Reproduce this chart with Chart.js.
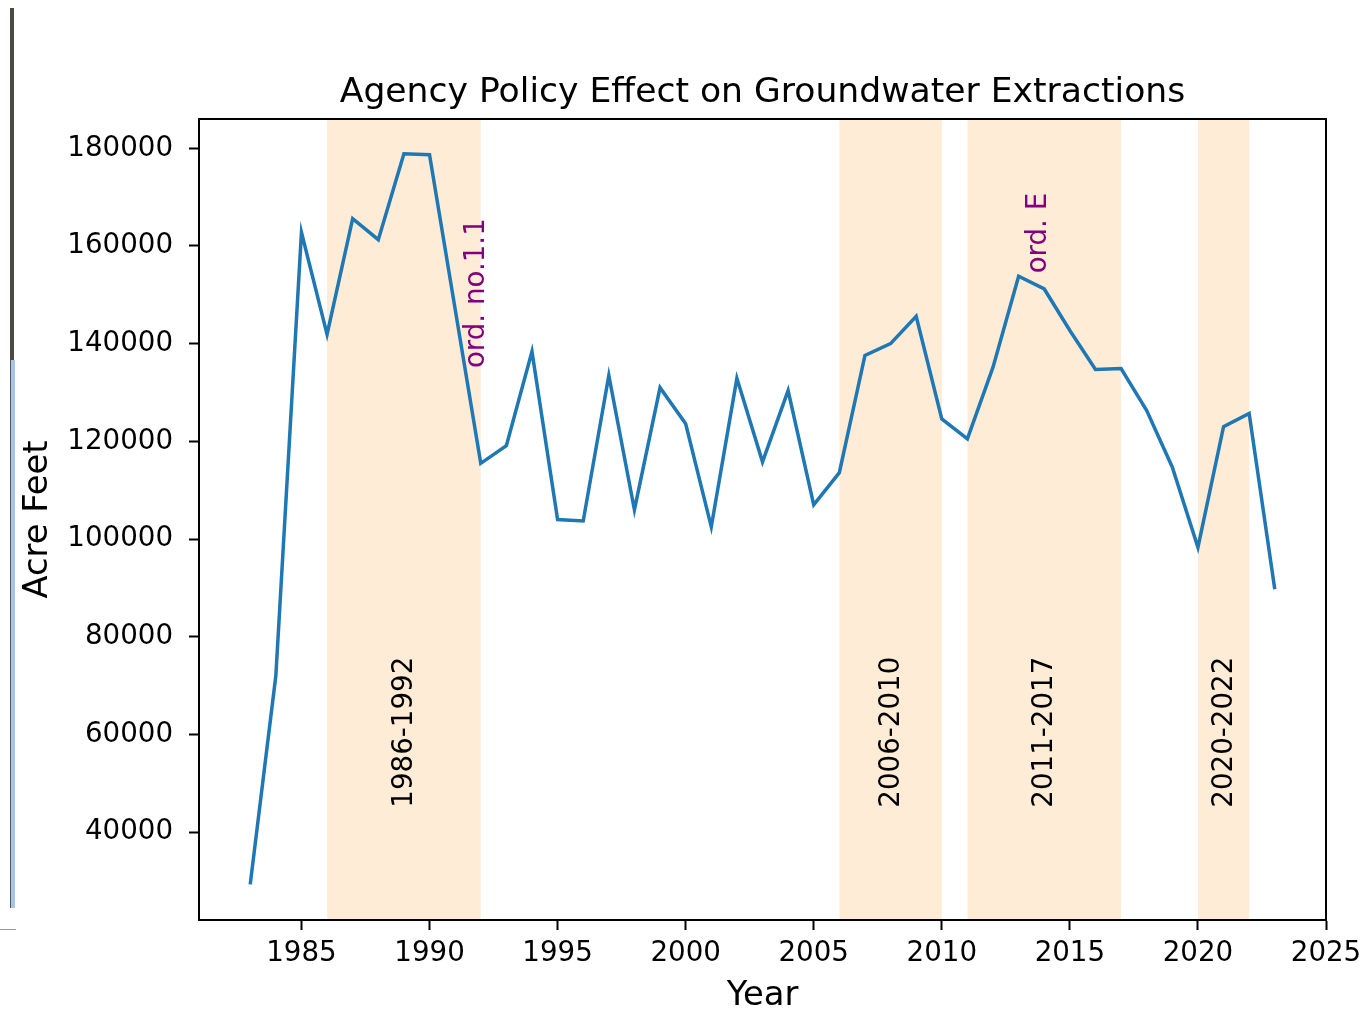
<!DOCTYPE html>
<html>
<head>
<meta charset="utf-8">
<script src="https://cdn.jsdelivr.net/npm/chart.js@4.4.1/dist/chart.umd.min.js"></script>
<style>
  html, body { margin: 0; padding: 0; background: #fff; }
  #wrap { position: relative; width: 1363px; height: 1009px; overflow: hidden; }
  canvas { display: block; }
  .strip { position: absolute; }
</style>
</head>
<body>
<div id="wrap">
  <canvas id="chart" width="1363" height="1009"></canvas>
  <div class="strip" style="left:10px;top:8px;width:4px;height:352px;background:#4b4a42;"></div>
  <div class="strip" style="left:10px;top:360px;width:4px;height:548px;background:#a9c3e2;border-left:1px solid #4a5a70;"></div>
  <div class="strip" style="left:0;top:929px;width:16px;height:1px;background:#999;"></div>
</div>
<script>
// data
const years = [1983, 1984, 1985, 1986, 1987, 1988, 1989, 1990, 1991, 1992,
               1993, 1994, 1995, 1996, 1997, 1998, 1999, 2000, 2001, 2002,
               2003, 2004, 2005, 2006, 2007, 2008, 2009, 2010, 2011, 2012,
               2013, 2014, 2015, 2016, 2017, 2018, 2019, 2020, 2021, 2022, 2023];
const extractions = [29300, 72000, 162800, 141900, 165600, 161300, 178900, 178700, 147100, 115500,
                     119100, 138400, 104000, 103700, 133500, 106000, 131000, 123600, 102500, 132900,
                     115800, 130400, 107000, 113600, 137600, 140000, 145600, 124600, 120500, 135200,
                     153800, 151200, 142700, 134700, 134900, 126300, 114700, 98300, 123000, 125700, 89700];

const xTicks = [1985, 1990, 1995, 2000, 2005, 2010, 2015, 2020, 2025];
const yTicks = [40000, 60000, 80000, 100000, 120000, 140000, 160000, 180000];

// policy periods (shaded)
const spanStarts = [1986, 2006, 2011, 2020];
const spanEnds = [1992, 2010, 2017, 2022];
const spanLabels = ['1986-1992', '2006-2010', '2011-2017', '2020-2022'];

// ordinance notes
const noteText = ['ord. no.1.1', 'ord. E'];
const noteYear = [1991.85, 2013.8];
const noteValue = [135000, 154400];

const FONT = "'DejaVu Sans', sans-serif";

const decorations = {
    id: 'decorations',
    beforeDatasetsDraw(chart) {
        const { ctx, chartArea, scales } = chart;
        ctx.save();
        ctx.fillStyle = 'rgba(255, 228, 196, 0.7)';
        for (let i = 0; i < spanStarts.length; i++) {
            const x0 = scales.x.getPixelForValue(spanStarts[i]);
            const x1 = scales.x.getPixelForValue(spanEnds[i]);
            ctx.fillRect(x0, chartArea.top, x1 - x0, chartArea.bottom - chartArea.top);
        }
        ctx.restore();
    },
    afterDatasetsDraw(chart) {
        const { ctx, chartArea, scales } = chart;
        ctx.save();

        // span labels, rotated
        ctx.fillStyle = '#000';
        ctx.font = '27.7px ' + FONT;
        ctx.textAlign = 'left';
        ctx.textBaseline = 'middle';
        for (let i = 0; i < spanLabels.length; i++) {
            const mid = (spanStarts[i] + spanEnds[i]) / 2;
            ctx.save();
            ctx.translate(scales.x.getPixelForValue(mid) + 1, scales.y.getPixelForValue(45000));
            ctx.rotate(-Math.PI / 2);
            ctx.fillText(spanLabels[i], 0, 0);
            ctx.restore();
        }

        // ordinance notes
        ctx.fillStyle = '#800080';
        for (let i = 0; i < noteText.length; i++) {
            ctx.save();
            ctx.translate(scales.x.getPixelForValue(noteYear[i]), scales.y.getPixelForValue(noteValue[i]));
            ctx.rotate(-Math.PI / 2);
            ctx.fillText(noteText[i], 0, 0);
            ctx.restore();
        }

        // frame
        ctx.strokeStyle = '#000';
        ctx.lineWidth = 2;
        ctx.strokeRect(chartArea.left, chartArea.top, chartArea.right - chartArea.left, chartArea.bottom - chartArea.top);

        // title and axis labels
        ctx.textAlign = 'center';
        ctx.textBaseline = 'alphabetic';
        ctx.fillStyle = '#000';
        const cx = (chartArea.left + chartArea.right) / 2;
        ctx.font = '34.6px ' + FONT;
        ctx.fillText('Agency Policy Effect on Groundwater Extractions', cx, 102);
        ctx.font = '33.8px ' + FONT;
        ctx.fillText('Year', cx, 1005);
        ctx.save();
        ctx.translate(47, (chartArea.top + chartArea.bottom) / 2);
        ctx.rotate(-Math.PI / 2);
        ctx.fillText('Acre Feet', 0, 0);
        ctx.restore();

        ctx.restore();
    }
};

const axisStyle = {
    grid: { display: true, drawOnChartArea: false, drawTicks: true, tickLength: 10, tickColor: '#000', tickWidth: 2 },
    border: { display: true, color: '#000', width: 2 },
};

new Chart(document.getElementById('chart').getContext('2d'), {
    type: 'line',
    data: {
        datasets: [{
            data: years.map((yr, i) => ({ x: yr, y: extractions[i] })),
            borderColor: '#1f77b4',
            borderWidth: 3.5,
            pointRadius: 0,
            tension: 0,
            fill: false
        }]
    },
    options: {
        responsive: false,
        devicePixelRatio: 1,
        animation: false,
        layout: { padding: { top: 119, right: 37, bottom: 0, left: 0 } },
        scales: {
            x: {
                type: 'linear',
                min: 1981,
                max: 2025,
                ...axisStyle,
                afterBuildTicks: (s) => { s.ticks = xTicks.map(v => ({ value: v })); },
                afterFit: (s) => { s.height = 89; s.paddingLeft = 0; s.paddingRight = 0; },
                ticks: {
                    color: '#000',
                    padding: 7,
                    font: { family: FONT, size: 27.7 },
                    maxRotation: 0,
                    autoSkip: false,
                    callback: (v) => String(v)
                }
            },
            y: {
                type: 'linear',
                min: 22000,
                max: 186000,
                ...axisStyle,
                afterBuildTicks: (s) => { s.ticks = yTicks.map(v => ({ value: v })); },
                afterFit: (s) => { s.width = 199; s.paddingTop = 0; s.paddingBottom = 0; },
                ticks: {
                    color: '#000',
                    padding: 16,
                    font: { family: FONT, size: 27.7 },
                    autoSkip: false,
                    callback: (v) => String(v)
                }
            }
        },
        plugins: {
            legend: { display: false },
            tooltip: { enabled: false },
            title: { display: false }
        }
    },
    plugins: [decorations]
});
</script>
</body>
</html>
